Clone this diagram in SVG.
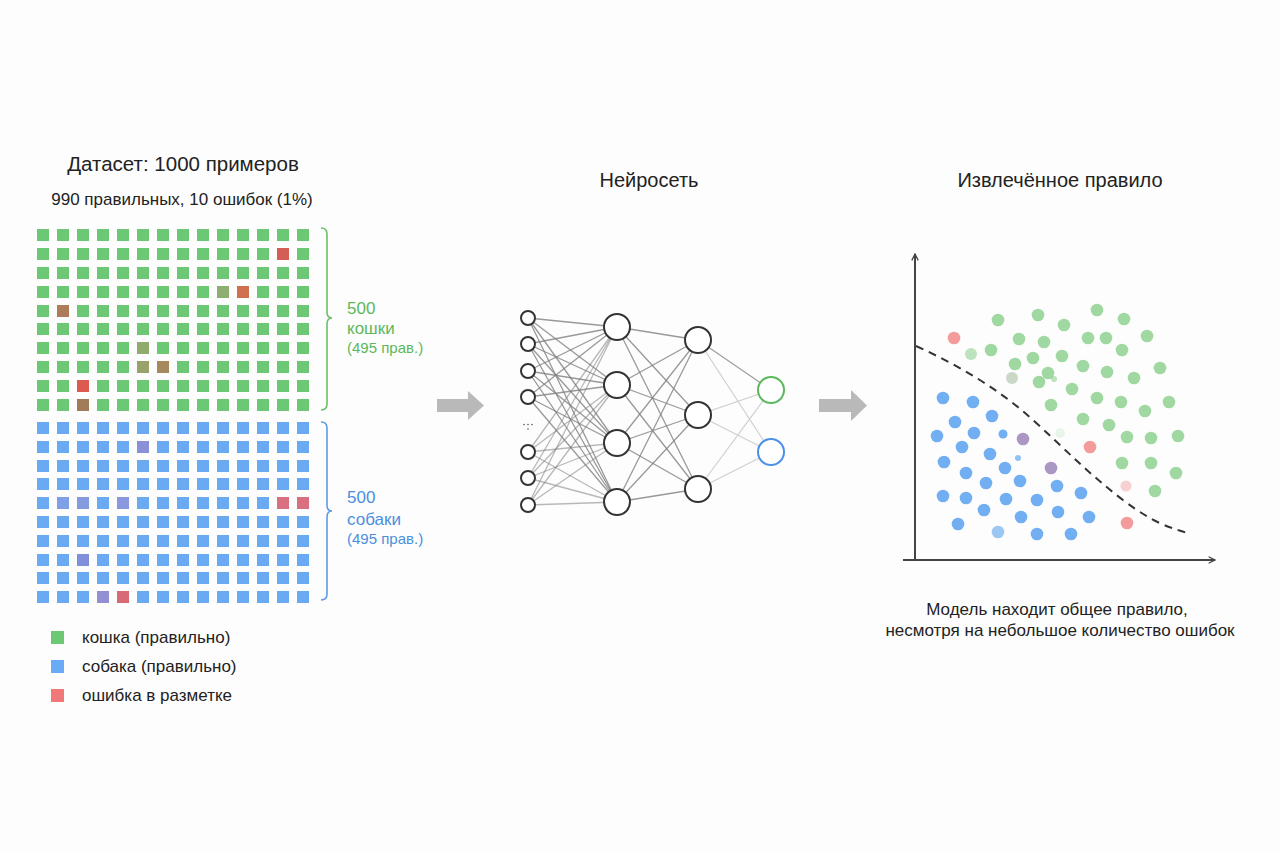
<svg xmlns="http://www.w3.org/2000/svg" width="1280" height="853" viewBox="0 0 1280 853">
<style>
text{font-family:"Liberation Sans",Arial,sans-serif;fill:#222}
.t{font-size:20px}
.s{font-size:17px}
.gl{fill:#5cb85c}
.bl{fill:#4a8fe0}
.sm{font-size:15px}
.e{stroke:#808080;stroke-width:1.3;stroke-opacity:.8}
.e2{stroke:#808080;stroke-width:1.3;stroke-opacity:.55}
.eo{stroke:#aaa;stroke-width:1.2;stroke-opacity:.55}
.n{fill:#fff;stroke:#333;stroke-width:2}
.gd{fill:#7cc97e;fill-opacity:.72}
.bd{fill:#4d9bef;fill-opacity:.8}
.rd{fill:#f07a7a;fill-opacity:.75}
.pd{fill:#8f74b0;fill-opacity:.75}
.arr{fill:#b9b9b9}
</style>
<defs>
<pattern id="pg" x="37" y="0" width="20" height="853" patternUnits="userSpaceOnUse"><rect width="12" height="853" fill="#6cc874"/></pattern>
<pattern id="pb" x="37" y="0" width="20" height="853" patternUnits="userSpaceOnUse"><rect width="12" height="853" fill="#6aaaf3"/></pattern>
<marker id="ah" viewBox="0 0 10 10" refX="9" refY="5" markerWidth="8" markerHeight="8" orient="auto" markerUnits="userSpaceOnUse"><path d="M1,1 L9,5 L1,9" fill="none" stroke="#444" stroke-width="1.6"/></marker>
</defs>
<rect width="1280" height="853" fill="#fdfdfd"/>

<g id="dataset">
<text class="t" x="183" y="171" text-anchor="middle" style="font-size:20.5px">Датасет: 1000 примеров</text>
<text class="s" x="182" y="205" text-anchor="middle">990 правильных, 10 ошибок (1%)</text>
<g id="cats-grid" fill="url(#pg)">
<rect x="37" y="229" width="272" height="12"/>
<rect x="37" y="248" width="272" height="12"/>
<rect x="37" y="267" width="272" height="12"/>
<rect x="37" y="286" width="272" height="12"/>
<rect x="37" y="305" width="272" height="12"/>
<rect x="37" y="323" width="272" height="12"/>
<rect x="37" y="342" width="272" height="12"/>
<rect x="37" y="361" width="272" height="12"/>
<rect x="37" y="380" width="272" height="12"/>
<rect x="37" y="399" width="272" height="12"/>
</g>
<g id="cats-errors">
<rect x="277" y="248" width="12" height="12" fill="#d45e55"/>
<rect x="217" y="286" width="12" height="12" fill="#8fae72"/>
<rect x="237" y="286" width="12" height="12" fill="#cf714f"/>
<rect x="57" y="305" width="12" height="12" fill="#ae7c5b"/>
<rect x="137" y="342" width="12" height="12" fill="#8fac6e"/>
<rect x="137" y="361" width="12" height="12" fill="#98a26a"/>
<rect x="157" y="361" width="12" height="12" fill="#a68a5e"/>
<rect x="77" y="380" width="12" height="12" fill="#dc5a50"/>
<rect x="77" y="399" width="12" height="12" fill="#a27b5a"/>
</g>
<g id="dogs-grid" fill="url(#pb)">
<rect x="37" y="422" width="272" height="12"/>
<rect x="37" y="441" width="272" height="12"/>
<rect x="37" y="460" width="272" height="12"/>
<rect x="37" y="478" width="272" height="12"/>
<rect x="37" y="497" width="272" height="12"/>
<rect x="37" y="516" width="272" height="12"/>
<rect x="37" y="535" width="272" height="12"/>
<rect x="37" y="554" width="272" height="12"/>
<rect x="37" y="572" width="272" height="12"/>
<rect x="37" y="591" width="272" height="12"/>
</g>
<g id="dogs-errors">
<rect x="137" y="441" width="12" height="12" fill="#8a90d8"/>
<rect x="57" y="497" width="12" height="12" fill="#7fa0e6"/>
<rect x="77" y="497" width="12" height="12" fill="#869ae0"/>
<rect x="117" y="497" width="12" height="12" fill="#8a98de"/>
<rect x="277" y="497" width="12" height="12" fill="#d87080"/>
<rect x="297" y="497" width="12" height="12" fill="#d87080"/>
<rect x="77" y="554" width="12" height="12" fill="#8090dc"/>
<rect x="97" y="591" width="12" height="12" fill="#9090d2"/>
<rect x="117" y="591" width="12" height="12" fill="#d86a78"/>
</g>
</g>

<g id="cats-brace">
<path d="M321,228 Q327,228 327,234 L327,312 Q327,318 332,318 Q327,318 327,324 L327,404 Q327,410 321,410" fill="none" stroke="#6abf69" stroke-width="1.6"/>
<text class="s gl" x="347" y="314">500</text>
<text class="s gl" x="347" y="334">кошки</text>
<text class="sm gl" x="347" y="353">(495 прав.)</text>
</g>
<g id="dogs-brace">
<path d="M321,422 Q327,422 327,428 L327,505 Q327,511 332,511 Q327,511 327,517 L327,594 Q327,600 321,600" fill="none" stroke="#5b9be8" stroke-width="1.6"/>
<text class="s bl" x="347" y="503">500</text>
<text class="s bl" x="347" y="525">собаки</text>
<text class="sm bl" x="347" y="544">(495 прав.)</text>
</g>

<g id="legend">
<rect x="51" y="631" width="13" height="13" fill="#6cc873"/>
<text class="s" x="82" y="643">кошка (правильно)</text>
<rect x="51" y="660" width="13" height="13" fill="#6aabf5"/>
<text class="s" x="82" y="672">собака (правильно)</text>
<rect x="51" y="689" width="13" height="13" fill="#f07878"/>
<text class="s" x="82" y="701">ошибка в разметке</text>
</g>

<g id="arrow1"><path class="arr" d="M437,399 L468,399 L468,391 L484,405.5 L468,420 L468,412 L437,412 Z"/></g>
<g id="arrow2"><path class="arr" d="M819,399 L851,399 L851,390 L867,405.5 L851,421 L851,412 L819,412 Z"/></g>

<g id="net-title"><text class="t" x="649" y="187" text-anchor="middle">Нейросеть</text></g>

<g id="connectors">
<g class="e">
<path d="M528,318L617,327M528,318L617,385M528,318L617,443M528,318L617,502"/>
<path d="M528,344L617,327M528,344L617,385M528,344L617,443M528,344L617,502"/>
<path d="M528,371L617,327M528,371L617,385M528,371L617,443M528,371L617,502"/>
<path d="M528,397L617,327M528,397L617,385M528,397L617,443M528,397L617,502"/>
</g>
<g class="e2">
<path d="M528,452L617,327M528,452L617,385M528,452L617,443M528,452L617,502"/>
<path d="M528,478L617,327M528,478L617,385M528,478L617,443M528,478L617,502"/>
<path d="M528,505L617,327M528,505L617,385M528,505L617,443M528,505L617,502"/>
</g>
<g class="e">
<path d="M617,327L698,340M617,327L698,415M617,327L698,489"/>
<path d="M617,385L698,340M617,385L698,415M617,385L698,489"/>
<path d="M617,443L698,340M617,443L698,415M617,443L698,489"/>
<path d="M617,502L698,340M617,502L698,415M617,502L698,489"/>
</g>
<path d="M698,340L771,390" stroke="#888" stroke-width="1.3" stroke-opacity=".8"/>
<g class="eo">
<path d="M698,340L771,452M698,415L771,390M698,415L771,452M698,489L771,390M698,489L771,452"/>
</g>
</g>

<g id="inputs">
<circle class="n" cx="528" cy="318" r="7"/>
<circle class="n" cx="528" cy="344" r="7"/>
<circle class="n" cx="528" cy="371" r="7"/>
<circle class="n" cx="528" cy="397" r="7"/>
<g fill="#555"><circle cx="524" cy="424.5" r=".8"/><circle cx="528" cy="424.5" r=".8"/><circle cx="532" cy="424.5" r=".8"/><circle cx="528" cy="429" r=".8"/></g>
<circle class="n" cx="528" cy="452" r="7"/>
<circle class="n" cx="528" cy="478" r="7"/>
<circle class="n" cx="528" cy="505" r="7"/>
</g>
<g id="hidden1">
<circle class="n" cx="617" cy="327" r="13"/>
<circle class="n" cx="617" cy="385" r="13"/>
<circle class="n" cx="617" cy="443" r="13"/>
<circle class="n" cx="617" cy="502" r="13"/>
</g>
<g id="hidden2">
<circle class="n" cx="698" cy="340" r="13"/>
<circle class="n" cx="698" cy="415" r="13"/>
<circle class="n" cx="698" cy="489" r="13"/>
</g>
<g id="out-cat"><circle cx="771" cy="390" r="13" fill="#fff" stroke="#5cb85c" stroke-width="2"/></g>
<g id="out-dog"><circle cx="771" cy="452" r="13" fill="#fff" stroke="#4a8fe8" stroke-width="2"/></g>

<g id="rule-title"><text class="t" x="1060" y="187" text-anchor="middle">Извлечённое правило</text></g>

<g id="plot">
<path d="M915,560 L915,254" stroke="#444" stroke-width="2" marker-end="url(#ah)"/>
<path d="M903,560 L1215,560" stroke="#444" stroke-width="2" marker-end="url(#ah)"/>
<g class="gd">
<circle cx="998" cy="320" r="6.3"/><circle cx="1038" cy="315" r="6.3"/><circle cx="1097" cy="310" r="6.3"/><circle cx="1064" cy="325" r="6.3"/><circle cx="1124" cy="319" r="6.3"/>
<circle cx="1019" cy="339" r="6.3"/><circle cx="1044" cy="342" r="6.3"/><circle cx="1088" cy="338" r="6.3"/><circle cx="1106" cy="338" r="6.3"/><circle cx="1147" cy="336" r="6.3"/>
<circle cx="971" cy="354" r="6" fill-opacity=".5"/><circle cx="991" cy="350" r="6.3"/><circle cx="1033" cy="358" r="6.3"/><circle cx="1062" cy="356" r="6.3"/><circle cx="1122" cy="350" r="6.3"/>
<circle cx="1015" cy="364" r="6.3"/><circle cx="1083" cy="366" r="6.3"/><circle cx="1107" cy="372" r="6.3"/><circle cx="1160" cy="368" r="6.3"/>
<circle cx="1012" cy="378" r="6" fill="#a8c0a0" fill-opacity=".6"/><circle cx="1039" cy="382" r="6.3"/><circle cx="1048" cy="373" r="6.3"/><circle cx="1054" cy="379" r="3" fill-opacity=".5"/><circle cx="1134" cy="378" r="6.3"/>
<circle cx="1072" cy="389" r="6.3"/><circle cx="1097" cy="398" r="6.3"/><circle cx="1121" cy="402" r="6.3"/><circle cx="1169" cy="402" r="6.3"/><circle cx="1145" cy="411" r="6.3"/>
<circle cx="1051" cy="405" r="6.3"/><circle cx="1083" cy="419" r="6.3"/><circle cx="1109" cy="425" r="6.3"/><circle cx="1060" cy="433" r="5" fill-opacity=".15"/>
<circle cx="1127" cy="437" r="6.3"/><circle cx="1151" cy="438" r="6.3"/><circle cx="1178" cy="436" r="6.3"/>
<circle cx="1122" cy="463" r="6.3"/><circle cx="1151" cy="463" r="6.3"/><circle cx="1176" cy="473" r="6.3"/><circle cx="1155" cy="491" r="6.3"/>
</g>
<g class="bd">
<circle cx="943" cy="398" r="6.3"/><circle cx="973" cy="402" r="6.3"/><circle cx="992" cy="416" r="6.3"/><circle cx="955" cy="422" r="6.3"/>
<circle cx="937" cy="436" r="6.3"/><circle cx="974" cy="433" r="6.3"/><circle cx="1003" cy="434" r="4.5"/><circle cx="962" cy="447" r="6.3"/>
<circle cx="990" cy="454" r="6.3"/><circle cx="1018" cy="458" r="3" fill-opacity=".6"/><circle cx="944" cy="462" r="6.3"/><circle cx="966" cy="473" r="6.3"/>
<circle cx="1005" cy="468" r="6.3"/><circle cx="986" cy="483" r="6.3"/><circle cx="1020" cy="481" r="6.3"/><circle cx="1057" cy="486" r="6.3"/>
<circle cx="1081" cy="493" r="6.3"/><circle cx="943" cy="496" r="6.3"/><circle cx="966" cy="498" r="6.3"/><circle cx="1006" cy="499" r="6.3"/>
<circle cx="1037" cy="500" r="6.3"/><circle cx="984" cy="510" r="6.3"/><circle cx="1021" cy="517" r="6.3"/><circle cx="1058" cy="512" r="6.3"/>
<circle cx="1089" cy="517" r="6.3"/><circle cx="958" cy="524" r="6.3"/><circle cx="998" cy="532" r="6.3" fill-opacity=".55"/><circle cx="1037" cy="534" r="6.3"/><circle cx="1071" cy="534" r="6.3"/>
</g>
<g class="rd">
<circle cx="954" cy="338" r="6.3"/><circle cx="1090" cy="447" r="6.3"/><circle cx="1126" cy="486" r="5.5" fill-opacity=".35"/><circle cx="1127" cy="523" r="6.3"/>
</g>
<g class="pd">
<circle cx="1023" cy="439" r="6.3"/><circle cx="1051" cy="468" r="6.3"/>
</g>
<path d="M916,346 C960,366 1000,390 1033,420 S1090,475 1123,500 S1170,527 1187,533" fill="none" stroke="#333" stroke-width="2" stroke-dasharray="8 6"/>
</g>

<g id="caption">
<text class="s" x="1057" y="615" text-anchor="middle">Модель находит общее правило,</text>
<text class="s" x="1060" y="636" text-anchor="middle">несмотря на небольшое количество ошибок</text>
</g>
</svg>
